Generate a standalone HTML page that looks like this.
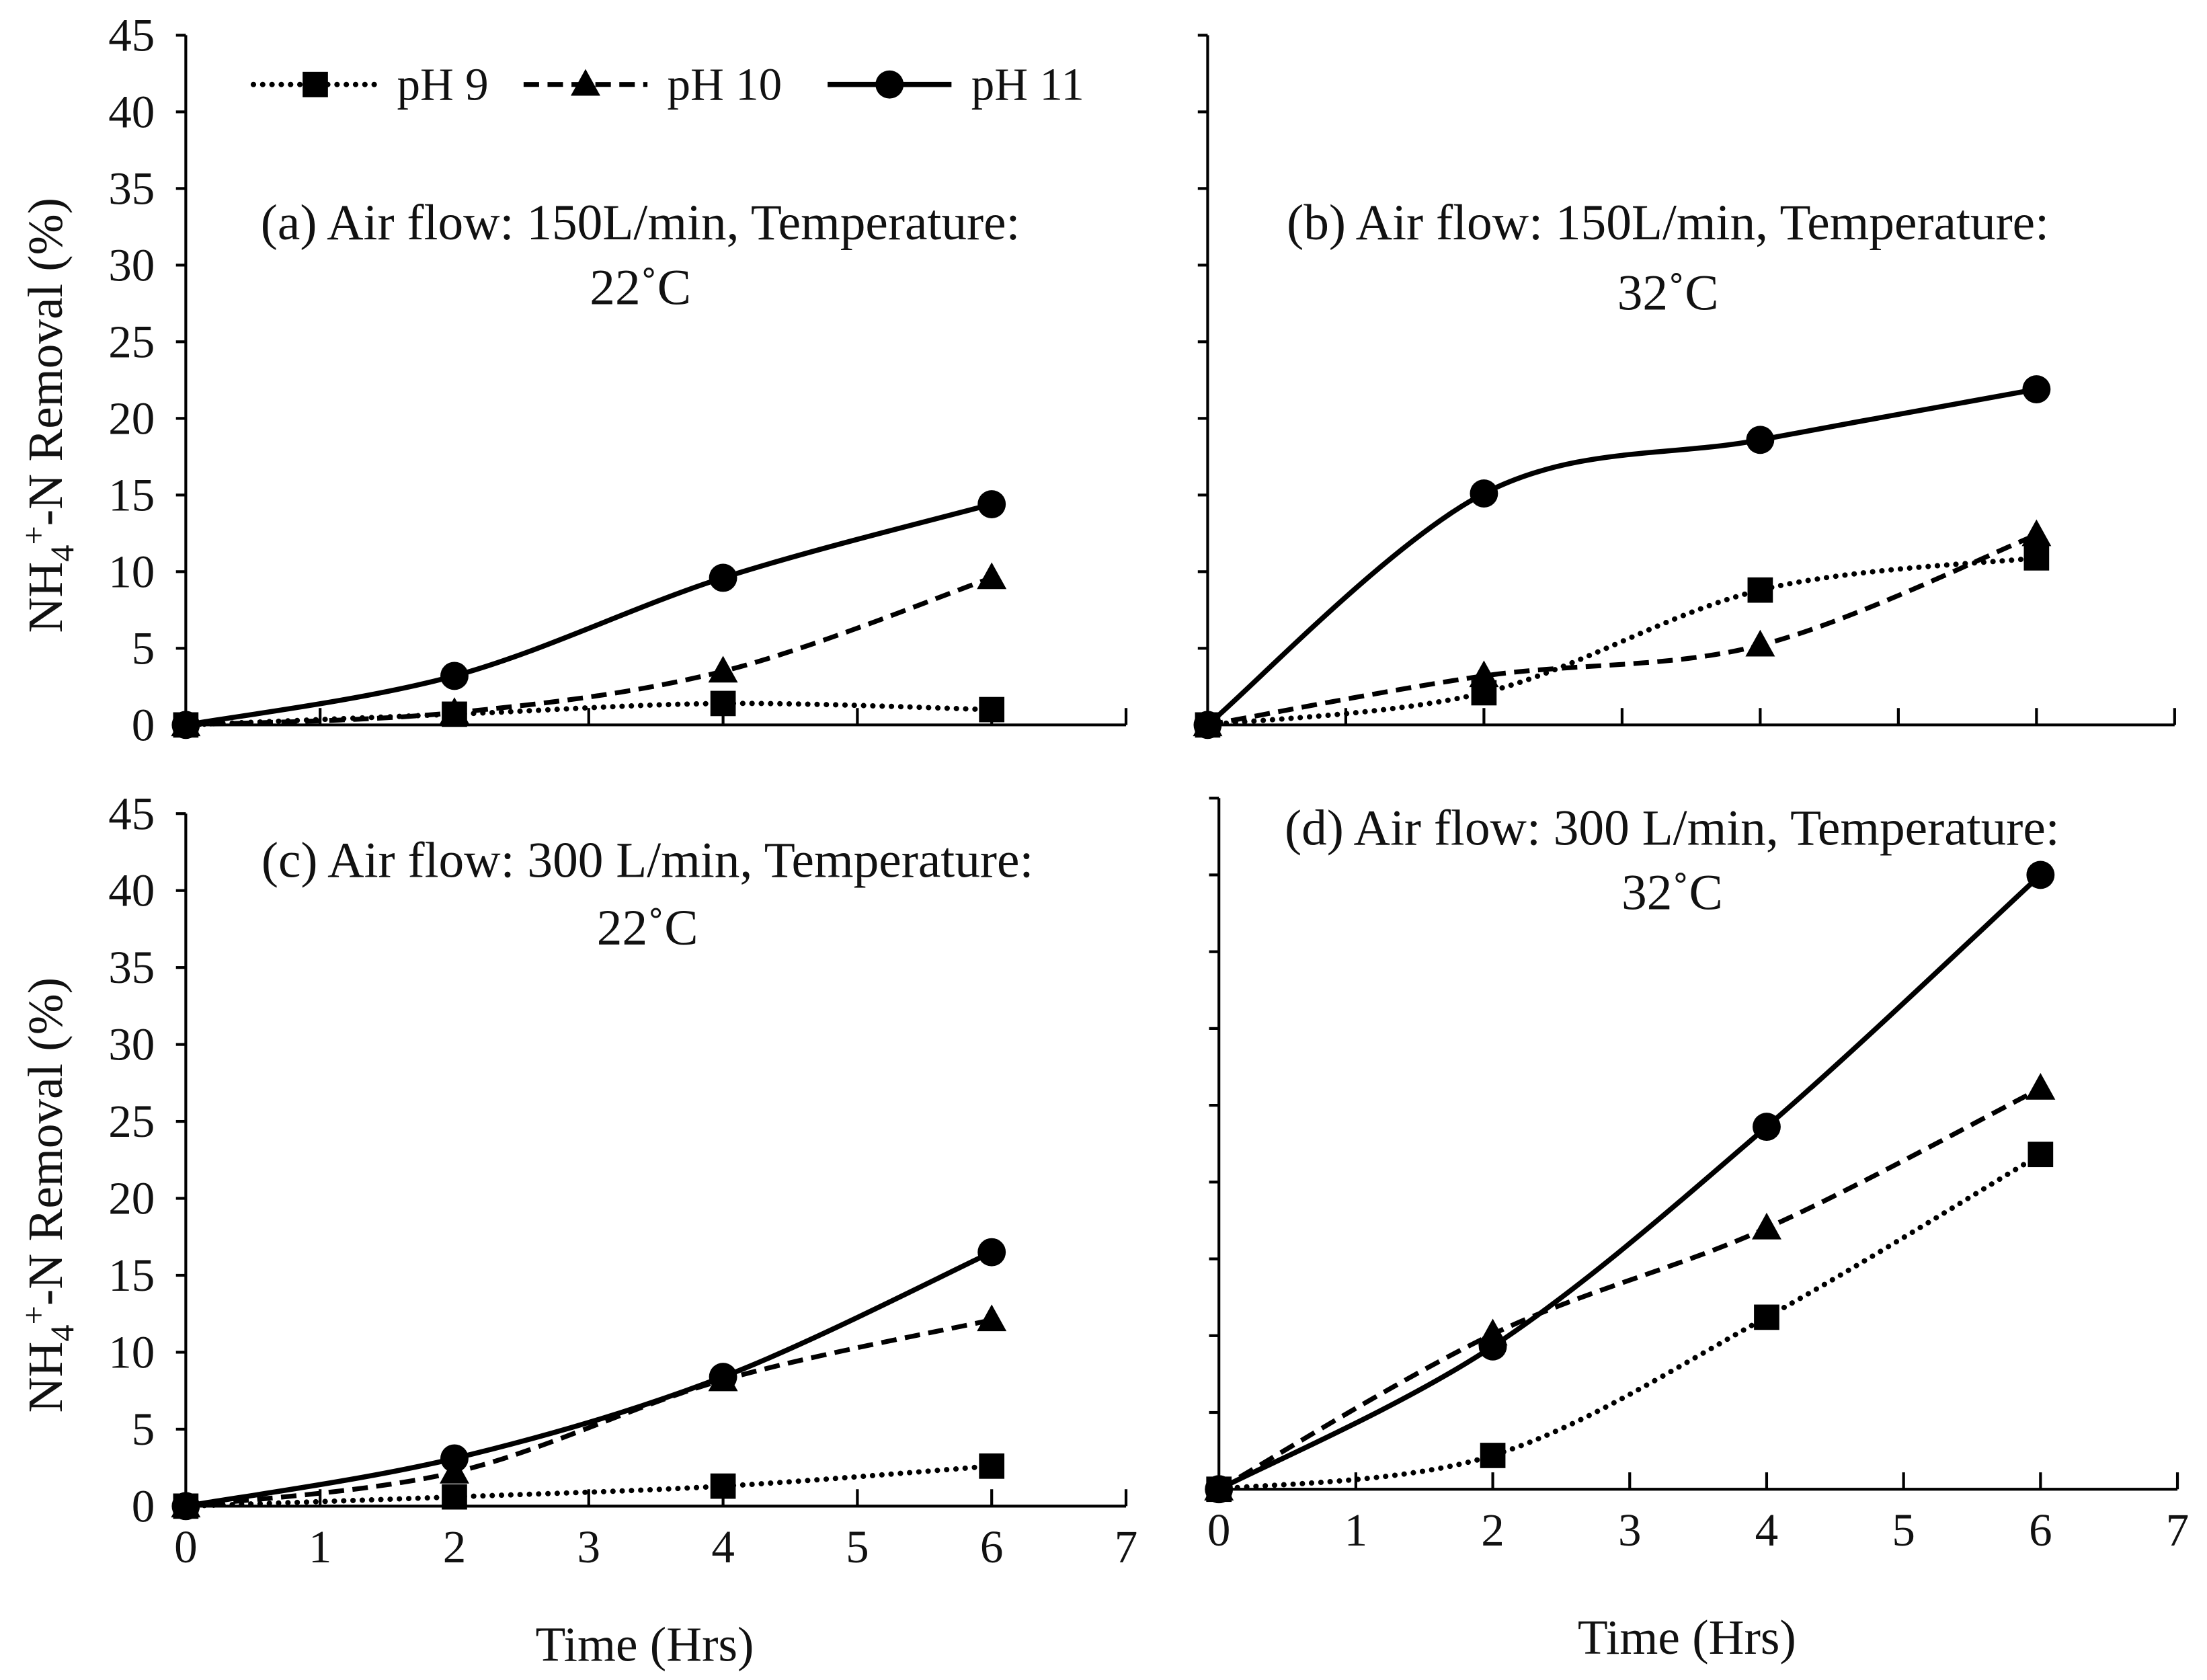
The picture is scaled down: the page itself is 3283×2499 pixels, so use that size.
<!DOCTYPE html>
<html><head><meta charset="utf-8"><style>
html,body{margin:0;padding:0;background:#fff}
svg{display:block}
text{font-family:"Liberation Serif",serif;fill:#111}
</style></head><body>
<svg id="chart" width="3283" height="2499" viewBox="0 0 1568 1193.5" xmlns="http://www.w3.org/2000/svg"></svg>
<script>
const hours = [0, 2, 4, 6];
const seriesNames = ["pH 9", "pH 10", "pH 11"];
const yTickLabels = [0, 5, 10, 15, 20, 25, 30, 35, 40, 45];
const xTickLabels = [0, 1, 2, 3, 4, 5, 6, 7];
const panelTitles = ["(a) Air flow: 150L/min, Temperature:", "(b) Air flow: 150L/min, Temperature:", "(c) Air flow: 300 L/min, Temperature:", "(d) Air flow: 300 L/min, Temperature:"];
const panelTemps = ["22˚C", "32˚C", "22˚C", "32˚C"];
const aPH9 = [0, 0.7, 1.4, 1.0];
const aPH10 = [0, 0.8, 3.5, 9.6];
const aPH11 = [0, 3.2, 9.6, 14.4];
const bPH9 = [0, 2.1, 8.8, 10.9];
const bPH10 = [0, 3.2, 5.2, 12.4];
const bPH11 = [0, 15.1, 18.6, 21.9];
const cPH9 = [0, 0.6, 1.3, 2.6];
const cPH10 = [0, 2.2, 8.2, 12.1];
const cPH11 = [0, 3.1, 8.4, 16.5];
const dPH9 = [0, 2.2, 11.2, 21.8];
const dPH10 = [0, 10.1, 17.0, 26.1];
const dPH11 = [0, 9.3, 23.6, 40.0];

const NS = "http://www.w3.org/2000/svg";
const svg = document.getElementById('chart');
function mk(tag, attrs, parent) {
  const e = document.createElementNS(NS, tag);
  for (const k in attrs) e.setAttribute(k, attrs[k]);
  (parent || svg).appendChild(e);
  return e;
}
const panels = [
  {id:'a', x0:132, x7:800, y0:515, y45:25, data:[aPH9,aPH10,aPH11], ylab:true, xlab:false, tx:455, ty:170, ty2:216},
  {id:'b', x0:858, x7:1545, y0:515, y45:25, data:[bPH9,bPH10,bPH11], ylab:false, xlab:false, tx:1185, ty:170, ty2:220},
  {id:'c', x0:132, x7:800, y0:1070, y45:578, data:[cPH9,cPH10,cPH11], ylab:true, xlab:true, tx:460, ty:623, ty2:671, tt:1180},
  {id:'d', x0:866, x7:1547, y0:1058, y45:567, data:[dPH9,dPH10,dPH11], ylab:false, xlab:true, tx:1188, ty:600, ty2:646, tt:1175}
];
const styles = [
  {dash:'0.1 6.5', cap:'round', w:3.8, m:'square'},
  {dash:'11 6', cap:'butt', w:3.4, m:'tri'},
  {dash:'', cap:'butt', w:3.6, m:'circle'}
];
function crPath(pts){
  let d = 'M' + pts[0][0] + ',' + pts[0][1];
  for (let i=0;i<pts.length-1;i++){
    const p0=pts[Math.max(0,i-1)], p1=pts[i], p2=pts[i+1], p3=pts[Math.min(pts.length-1,i+2)];
    const c1=[p1[0]+(p2[0]-p0[0])/6, p1[1]+(p2[1]-p0[1])/6];
    const c2=[p2[0]-(p3[0]-p1[0])/6, p2[1]-(p3[1]-p1[1])/6];
    d += ' C'+c1[0]+','+c1[1]+' '+c2[0]+','+c2[1]+' '+p2[0]+','+p2[1];
  }
  return d;
}
function marker(type, x, y, g){
  let e;
  if (type==='square') e = mk('rect',{x:x-9,y:y-9,width:18,height:18,fill:'#000'},g);
  else if (type==='tri') e = mk('polygon',{points:(x)+','+(y-11)+' '+(x-10.5)+','+(y+8)+' '+(x+10.5)+','+(y+8),fill:'#000'},g);
  else e = mk('circle',{cx:x,cy:y,r:10,fill:'#000'},g);
  return e;
}
panels.forEach((p, pi) => {
  const g = mk('g', {});
  
  
  const sx = v => p.x0 + (p.x7 - p.x0) * v / 7;
  const sy = v => p.y0 - (p.y0 - p.y45) * v / 45;
  const ax = mk('path', {d:'M'+p.x0+','+p.y45+' V'+p.y0+' H'+p.x7, stroke:'#000','stroke-width':2, fill:'none'}, g);
  
  
  yTickLabels.forEach(v => {
    mk('line',{x1:p.x0-7,x2:p.x0,y1:sy(v),y2:sy(v),stroke:'#000','stroke-width':2},g);
    if (p.ylab) {
      const t = mk('text',{x:p.x0-22,y:sy(v)+11,'text-anchor':'end','font-size':33},g);
      t.textContent = v;
      
      
    }
  });
  xTickLabels.forEach(v => {
    if (v>0) mk('line',{x1:sx(v),x2:sx(v),y1:p.y0-12,y2:p.y0,stroke:'#000','stroke-width':2},g);
    if (p.xlab) {
      const t = mk('text',{x:sx(v),y:p.y0+40,'text-anchor':'middle','font-size':33},g);
      t.textContent = v;
      
      
    }
  });
  if (p.xlab) {
    const t = mk('text',{x:(p.x0+p.x7)/2-8,y:p.tt,'text-anchor':'middle','font-size':35},g);
    t.textContent = 'Time (Hrs)';
    
    
  }
  if (p.ylab) {
    const cy = (p.y0 + p.y45) / 2 + 25;
    const t = mk('text',{x:0,y:0,'text-anchor':'middle','font-size':35,transform:'translate(44,'+cy+') rotate(-90)'},g);
    t.innerHTML = 'NH<tspan font-size="24" dy="8">4</tspan><tspan font-size="24" dy="-20">+</tspan><tspan dy="12">-N Removal (%)</tspan>';
    
    
  }
  const t1 = mk('text',{x:p.tx,y:p.ty,'text-anchor':'middle','font-size':36},g);
  t1.textContent = panelTitles[pi];
  
  
  const t2 = mk('text',{x:p.tx,y:p.ty2,'text-anchor':'middle','font-size':36},g);
  t2.textContent = panelTemps[pi];
  
  
  p.data.forEach((vals, si) => {
    const st = styles[si];
    const pts = hours.map((h,i)=>[sx(h), sy(vals[i])]);
    const line = mk('path',{d:crPath(pts),fill:'none',stroke:'#000','stroke-width':st.w,'stroke-dasharray':st.dash,'stroke-linecap':st.cap},g);
    
    
    pts.forEach(pt => {
      const m = marker(st.m, pt[0], pt[1], g);
      
      
    });
  });
});
// legend
const lg = mk('g', {});


const legX = [180, 372, 588];
seriesNames.forEach((n, i) => {
  const st = styles[i];
  const x = legX[i];
  const l = mk('line',{x1:x,x2:x+88,y1:60,y2:60,stroke:'#000','stroke-width':st.w,'stroke-dasharray':st.dash,'stroke-linecap':st.cap},lg);
  
  
  const m = marker(st.m, x+44, 60, lg);
  
  
  const t = mk('text',{x:x+102,y:71,'font-size':33},lg);
  t.textContent = n;
  
  
});
</script>
</body></html>
